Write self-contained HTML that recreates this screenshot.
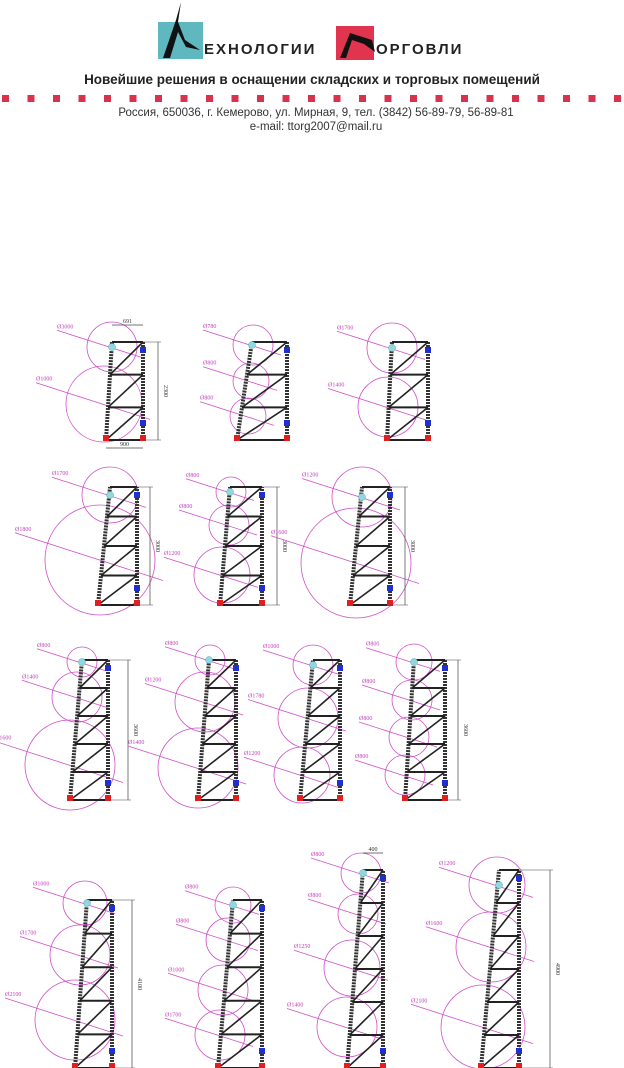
<!DOCTYPE html>
<html><head><meta charset="utf-8">
<style>
html,body{margin:0;padding:0;background:#fff;}
body{width:624px;height:1068px;overflow:hidden;position:relative;font-family:"Liberation Sans","DejaVu Sans",sans-serif;}
#hdr{position:absolute;left:0;top:0;width:624px;height:140px;}
svg{position:absolute;left:0;top:0;}
</style></head>
<body>
<svg id="page" width="624" height="1068" viewBox="0 0 624 1068">
  <g>
    <rect x="158" y="22" width="45" height="37" fill="#5fb7c0"/>
    <path d="M163 58 L176 20 L181 2 L178 22 L185 40 L200 50 L186 47 L178 32 L170 58 Z" fill="#111"/>
    <text x="204" y="54" font-size="15" font-weight="bold" letter-spacing="2" fill="#222">ЕХНОЛОГИИ</text>
    <rect x="336" y="26" width="38" height="34" fill="#e0344f"/>
    <path d="M340 58 L350 33 L372 40 L375 52 L364 44 L352 40 L346 58 Z" fill="#111"/>
    <text x="376" y="54" font-size="15" font-weight="bold" letter-spacing="2" fill="#222">ОРГОВЛИ</text>
    <text x="312" y="84" font-size="13.5" font-weight="bold" text-anchor="middle" fill="#222">Новейшие решения в оснащении складских и торговых помещений</text>
    <g id="dots"></g>
    <text x="316" y="116" font-size="11.5" text-anchor="middle" fill="#333">Россия, 650036, г. Кемерово, ул. Мирная, 9, тел. (3842) 56-89-79, 56-89-81</text>
    <text x="316" y="130" font-size="11.5" text-anchor="middle" fill="#333">e-mail: ttorg2007@mail.ru</text>
  </g>
  <g id="racks"></g>
</svg>
<script>
const NS='http://www.w3.org/2000/svg';
function mk(parent,tag,attrs){const e=document.createElementNS(NS,tag);for(const k in attrs)e.setAttribute(k,attrs[k]);parent.appendChild(e);return e;}
const dots=document.getElementById('dots');
for(let i=0;i<25;i++){
  const r=mk(dots,'rect',{x:2+i*25.5,y:95,width:7,height:7,fill:'#d9324d'});
  
  
}
// rack: [leftBottomX, bottomY, leftTopX, topY, rightX, levels, dimX, dimLabel]
const rackGeom=[
 [106,440,112,342,143,3,158,'2300'],
 [237,440,252,342,287,3,null,''],
 [387,440,392,342,428,3,null,''],
 [98,605,110,487,137,4,150,'3000'],
 [220,605,230,487,262,4,277,'3000'],
 [350,605,362,487,390,4,405,'3000'],
 [70,800,82,660,108,5,128,'3600'],
 [198,800,209,660,236,5,null,''],
 [300,800,313,660,340,5,null,''],
 [405,800,414,660,445,5,458,'3600'],
 [75,1068,87,900,112,5,132,'4100'],
 [218,1068,233,900,262,5,null,''],
 [347,1068,363,870,383,6,null,''],
 [481,1068,499,870,519,6,550,'4900']
];
// circles per rack: [cx, cy, r]
const rackCircles=[
 [[112,347,25],[104,404,38]],
 [[253,345,20],[251,381,18],[248,416,18]],
 [[392,348,25],[388,407,30]],
 [[110,495,28],[100,560,55]],
 [[231,492,15],[229,525,20],[222,575,28]],
 [[362,497,30],[356,563,55]],
 [[82,662,15],[77,697,25],[70,765,45]],
 [[210,660,15],[205,702,30],[198,768,40]],
 [[313,665,20],[308,718,30],[302,775,28]],
 [[414,662,18],[412,700,20],[409,737,20],[405,775,20]],
 [[85,903,22],[80,955,30],[75,1020,40]],
 [[233,905,18],[228,940,22],[223,990,25],[220,1035,25]],
 [[361,873,20],[358,914,20],[352,968,28],[347,1027,30]],
 [[497,885,28],[491,947,35],[483,1027,42]]
];
const circleLabels=[
 ['Ø3000','Ø1000'],['Ø780','Ø800','Ø800'],['Ø1700','Ø1400'],
 ['Ø1700','Ø1800'],['Ø800','Ø800','Ø1200'],['Ø1200','Ø1600'],
 ['Ø800','Ø1400','Ø1600'],['Ø800','Ø1200','Ø1400'],['Ø1000','Ø1780','Ø1200'],['Ø800','Ø800','Ø800','Ø800'],
 ['Ø1000','Ø1700','Ø2100'],['Ø800','Ø800','Ø1000','Ø1700'],['Ø800','Ø800','Ø1250','Ø1400'],['Ø1200','Ø1600','Ø2100']
];
const root=document.getElementById('racks');
rackGeom.forEach((g,i)=>{
  const [lbx,by,ltx,ty,rx,lv,dx,dl]=g;
  const G=mk(root,'g',{});
  
  
  const lx=t=>lbx+(ltx-lbx)*t;
  // circles first
  rackCircles[i].forEach((c,j)=>{
    const ci=mk(G,'circle',{cx:c[0],cy:c[1],r:c[2],fill:'none',stroke:'#d050c8','stroke-width':0.8});
    
    
    const ln=mk(G,'line',{x1:c[0]-c[2]-30,y1:c[1]-c[2]*0.35-8,x2:c[0]+c[2]+8,y2:c[1]+c[2]*0.3+4,stroke:'#d050c8','stroke-width':0.8});
    
    
    const tx=mk(G,'text',{x:c[0]-c[2]-30,y:c[1]-c[2]*0.35-10,'font-size':6,fill:'#c040b8','font-family':'Liberation Serif, serif'});
    tx.textContent=circleLabels[i][j];
    
    
  });
  // uprights
  const l1=mk(G,'line',{x1:lbx,y1:by,x2:ltx,y2:ty,stroke:'#333','stroke-width':4,'stroke-dasharray':'2 1'});
  
  
  const l2=mk(G,'line',{x1:rx,y1:by,x2:rx,y2:ty,stroke:'#333','stroke-width':4,'stroke-dasharray':'2 1'});
  
  
  // beams and diagonals
  for(let k=0;k<=lv;k++){
    const t=k/lv, y=by-(by-ty)*t;
    const b=mk(G,'line',{x1:lx(t),y1:y,x2:rx,y2:y,stroke:'#222','stroke-width':2});
    
    
    if(k<lv){
      const t2=(k+1)/lv,y2=by-(by-ty)*t2;
      const d=mk(G,'line',{x1:lx(t),y1:y,x2:rx,y2:y2,stroke:'#222','stroke-width':1.6});
      
      
    }
  }
  // feet & connectors
  [[lbx-3,by-5,'#e02020'],[rx-3,by-5,'#e02020'],[rx-3,ty+5,'#2030d0'],[rx-3,by-20,'#2030d0']].forEach(f=>{
    const r=mk(G,'rect',{x:f[0],y:f[1],width:6,height:6,fill:f[2]});
    
    
  });
  const c0=rackCircles[i][0];
  const cap=mk(G,'circle',{cx:ltx,cy:c0[1],r:3.5,fill:'#8fd8e0',stroke:'#5aa',"stroke-width":0.5});
  
  
  if(dx){
    const d=mk(G,'line',{x1:dx,y1:ty,x2:dx,y2:by,stroke:'#444','stroke-width':0.7});
    
    
    [ty,by].forEach(yy=>{const e=mk(G,'line',{x1:rx,y1:yy,x2:dx+3,y2:yy,stroke:'#444','stroke-width':0.5});
      
      });
    const t=mk(G,'text',{x:dx+6,y:(ty+by)/2,'font-size':6,fill:'#333','font-family':'Liberation Serif, serif',transform:`rotate(90 ${dx+6} ${(ty+by)/2})`,'text-anchor':'middle'});
    t.textContent=dl;
    
    
  }
});
// extra width dims on rack 1
const extra=[[112,325,143,'691'],[106,448,143,'900'],[363,853,383,'400']];
extra.forEach(e=>{
  const l=mk(root,'line',{x1:e[0],y1:e[1],x2:e[2],y2:e[1],stroke:'#444','stroke-width':0.7});
  
  
  const t=mk(root,'text',{x:(e[0]+e[2])/2,y:e[1]-2,'font-size':6,'text-anchor':'middle',fill:'#333','font-family':'Liberation Serif, serif'});
  t.textContent=e[3];
  
  
});
</script>
</body></html>
